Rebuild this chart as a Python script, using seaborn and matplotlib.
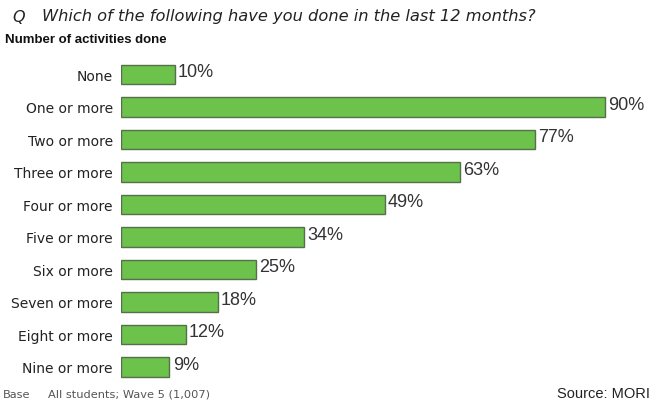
import matplotlib
matplotlib.use("Agg")
import matplotlib.pyplot as plt
import seaborn as sns
import pandas as pd

categories = ["None", "One or more", "Two or more", "Three or more", "Four or more",
              "Five or more", "Six or more", "Seven or more", "Eight or more", "Nine or more"]
values = [10, 90, 77, 63, 49, 34, 25, 18, 12, 9]
value_labels = [f"{v}%" for v in values]

df = pd.DataFrame({"activities": categories, "pct": values})

sns.set_theme(style="white")
plt.rcParams["font.family"] = ["Liberation Sans", "DejaVu Sans"]
wide = ["DejaVu Sans"]

fig = plt.figure(figsize=(6.56, 4.06), dpi=100)
ax = fig.add_axes([121 / 656, (406 - 384) / 406, (656 - 121) / 656, (384 - 59) / 406])

sns.barplot(data=df, y="activities", x="pct", orient="h", ax=ax,
            color="#6cc24a", edgecolor="#55704a", linewidth=1.0, width=0.6,
            saturation=1)

for i, (v, lab) in enumerate(zip(values, value_labels)):
    ax.text(v + 0.6, i - 0.08, lab, va="center", ha="left", fontsize=13, color="#333333")

ax.set_xlim(0, (656 - 121) / 5.38)
ax.set_ylim(len(categories) - 0.5, -0.5)
ax.set_xlabel("")
ax.set_ylabel("")
ax.set_xticks([])
ax.tick_params(axis="y", length=0, pad=6, labelcolor="#222222")
for lbl in ax.get_yticklabels():
    lbl.set_family(wide)
    lbl.set_fontsize(10)
for s in ax.spines.values():
    s.set_visible(False)

fig.text(12 / 656, 1 - 17 / 406, "Q", fontsize=11.5, style="italic", va="center",
         color="#222222", family=wide)
fig.text(42 / 656, 1 - 17 / 406, "Which of the following have you done in the last 12 months?",
         fontsize=11.7, style="italic", va="center", color="#222222", family=wide)
fig.text(5 / 656, 1 - 40 / 406, "Number of activities done", fontsize=9.5,
         fontweight="bold", va="center", color="#111111")
fig.text(3 / 656, 1 - 395 / 406, "Base", fontsize=8.2, va="center", color="#555555", family=wide)
fig.text(48 / 656, 1 - 395 / 406, "All students; Wave 5 (1,007)", fontsize=8.2,
         va="center", color="#555555", family=wide)
fig.text(650 / 656, 1 - 394 / 406, "Source: MORI", fontsize=10.5, ha="right",
         va="center", color="#222222")

fig.savefig("out.png", dpi=100, facecolor="white")
